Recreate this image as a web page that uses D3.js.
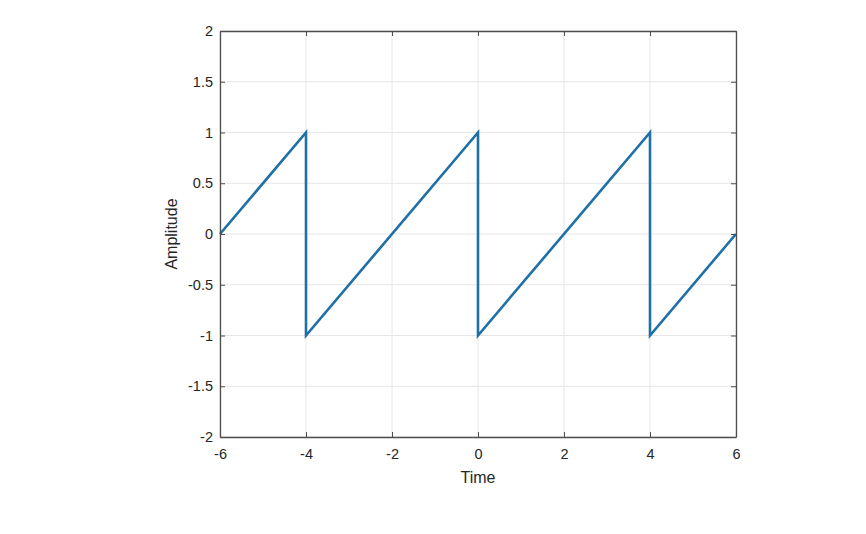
<!DOCTYPE html>
<html><head><meta charset="utf-8">
<script src="https://cdn.jsdelivr.net/npm/d3@7"></script>
<style>body{margin:0;background:#fff;}svg{display:block;font-family:"Liberation Sans",Arial,sans-serif;}</style>
</head><body>
<svg id="c" width="866" height="534"></svg>
<script>
const timeVals = [-6, -4, -4, 0, 0, 4, 4, 6];
const ampVals  = [0, 1, -1, 1, -1, 1, -1, 0];
const xTicks = [-6, -4, -2, 0, 2, 4, 6];
const yTicks = [-2, -1.5, -1, -0.5, 0, 0.5, 1, 1.5, 2];

const svg = d3.select("#c");
const L = 220, R = 736, T = 31, B = 437;
const x = d3.scaleLinear().domain([-6, 6]).range([L, R]);
const y = d3.scaleLinear().domain([-2, 2]).range([B, T]);
const axisCol = "#4d4d4d", gridCol = "#e6e6e6", tickLen = 5;

// grid
svg.append("g").selectAll("line").data(xTicks).join("line")
  .attr("x1", d => x(d)).attr("x2", d => x(d)).attr("y1", T).attr("y2", B)
  .attr("stroke", gridCol).attr("stroke-width", 1);
svg.append("g").selectAll("line").data(yTicks).join("line")
  .attr("y1", d => y(d)).attr("y2", d => y(d)).attr("x1", L).attr("x2", R)
  .attr("stroke", gridCol).attr("stroke-width", 1);

// data line
const line = d3.line().x((d, i) => x(timeVals[i])).y((d, i) => y(ampVals[i]));
svg.append("path").datum(timeVals).attr("d", line)
  .attr("fill", "none").attr("stroke", "#1f70a6").attr("stroke-width", 2.6)
  .attr("stroke-linejoin", "miter");

// axes (inward ticks)
const fmt = d => d < 0 ? "-" + String(Math.abs(d)) : String(d);
const axB = svg.append("g").attr("transform", `translate(0,${B})`)
  .call(d3.axisBottom(x).tickValues(xTicks).tickSizeInner(-tickLen).tickSizeOuter(0).tickPadding(12).tickFormat(fmt));
const axT = svg.append("g").attr("transform", `translate(0,${T})`)
  .call(d3.axisTop(x).tickValues(xTicks).tickSizeInner(-tickLen).tickSizeOuter(0).tickFormat(""));
const axL = svg.append("g").attr("transform", `translate(${L},0)`)
  .call(d3.axisLeft(y).tickValues(yTicks).tickSizeInner(-tickLen).tickSizeOuter(0).tickPadding(7).tickFormat(fmt));
const axR = svg.append("g").attr("transform", `translate(${R},0)`)
  .call(d3.axisRight(y).tickValues(yTicks).tickSizeInner(-tickLen).tickSizeOuter(0).tickFormat(""));
[axB, axT, axL, axR].forEach(g => {
  g.selectAll("path.domain").attr("stroke", axisCol).attr("stroke-width", 1.3);
  g.selectAll(".tick line").attr("stroke", axisCol).attr("stroke-width", 1);
  g.selectAll("text").attr("fill", "#262626").style("font-size", "14.5px").style("font-family", '"Liberation Sans",Arial,sans-serif');
});

// labels
svg.append("text").attr("x", (L + R) / 2).attr("y", 483).attr("text-anchor", "middle")
  .attr("fill", "#262626").style("font-size", "16px").text("Time");
svg.append("text").attr("transform", `translate(177,${(T + B) / 2}) rotate(-90)`)
  .attr("text-anchor", "middle").attr("fill", "#262626").style("font-size", "16px").text("Amplitude");
</script>
</body></html>
